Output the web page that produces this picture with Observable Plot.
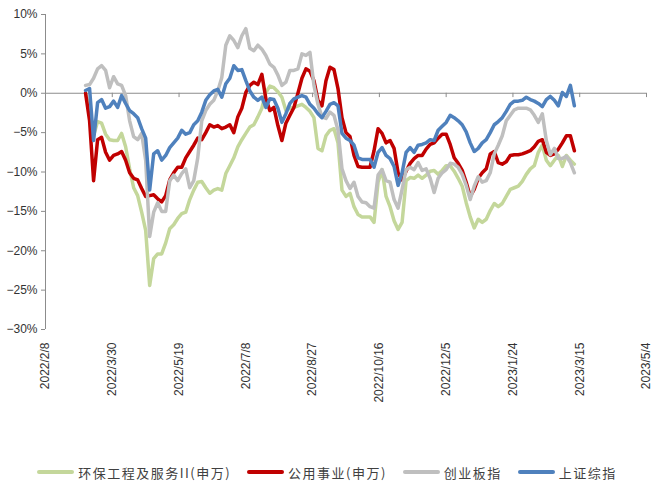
<!DOCTYPE html>
<html>
<head>
<meta charset="utf-8">
<script src="https://cdn.jsdelivr.net/npm/d3@7"></script>
<script src="https://cdn.jsdelivr.net/npm/@observablehq/plot@0.6"></script>
<style>
  html, body { margin: 0; padding: 0; background: #fff; }
  #chart { width: 654px; }
  .legend {
    display: flex; justify-content: center; align-items: center;
    height: 34px; font-family: "Noto Sans CJK SC", sans-serif;
    font-size: 13px; letter-spacing: 1.5px; color: #404040;
  }
  .legend .item { display: flex; align-items: center; margin: 0 8px; }
  .legend .swatch { width: 37px; height: 4px; border-radius: 2px; margin-right: 4px; }
</style>
</head>
<body>
<div id="chart"></div>
<script>
// Series names and colours (legend order = drawing order)
const seriesNames = ["环保工程及服务II(申万)", "公用事业(申万)", "创业板指", "上证综指"];
const seriesColors = ["#c4d79b", "#c00000", "#bfbfbf", "#4f81bd"];

// Observation dates (every three days)
const dates = [
  "2022-03-10","2022-03-13","2022-03-16","2022-03-19","2022-03-22","2022-03-25","2022-03-28","2022-03-31",
  "2022-04-03","2022-04-06","2022-04-09","2022-04-12","2022-04-15","2022-04-18","2022-04-21","2022-04-24","2022-04-27","2022-04-30",
  "2022-05-03","2022-05-06","2022-05-09","2022-05-12","2022-05-15","2022-05-18","2022-05-21","2022-05-24","2022-05-27","2022-05-30",
  "2022-06-02","2022-06-05","2022-06-08","2022-06-11","2022-06-14","2022-06-17","2022-06-20","2022-06-23","2022-06-26","2022-06-29",
  "2022-07-02","2022-07-05","2022-07-08","2022-07-11","2022-07-14","2022-07-17","2022-07-20","2022-07-23","2022-07-26","2022-07-29",
  "2022-08-01","2022-08-04","2022-08-07","2022-08-10","2022-08-13","2022-08-16","2022-08-19","2022-08-22","2022-08-25","2022-08-28","2022-08-31",
  "2022-09-03","2022-09-06","2022-09-09","2022-09-12","2022-09-15","2022-09-18","2022-09-21","2022-09-24","2022-09-27","2022-09-30",
  "2022-10-03","2022-10-06","2022-10-09","2022-10-12","2022-10-15","2022-10-18","2022-10-21","2022-10-24","2022-10-27","2022-10-30",
  "2022-11-02","2022-11-05","2022-11-08","2022-11-11","2022-11-14","2022-11-17","2022-11-20","2022-11-23","2022-11-26","2022-11-29",
  "2022-12-02","2022-12-05","2022-12-08","2022-12-11","2022-12-14","2022-12-17","2022-12-20","2022-12-23","2022-12-26","2022-12-29",
  "2023-01-01","2023-01-04","2023-01-07","2023-01-10","2023-01-13","2023-01-16","2023-01-19","2023-01-22","2023-01-25","2023-01-28","2023-01-31",
  "2023-02-03","2023-02-06","2023-02-09","2023-02-12","2023-02-15","2023-02-18","2023-02-21","2023-02-24","2023-02-27",
  "2023-03-02","2023-03-05","2023-03-08","2023-03-11"
];

// Cumulative change, %
const envProtection = [
  0.0,-1.9,-5.4,-3.6,-3.8,-5.2,-5.9,-6.0,-6.0,-5.1,-6.8,-9.6,-12.0,-13.0,-15.1,-17.4,-24.4,-21.0,-20.4,-20.4,
  -19.0,-17.2,-16.7,-15.9,-15.3,-15.1,-13.5,-12.3,-11.3,-11.2,-12.0,-12.7,-12.3,-12.1,-12.3,-10.2,-9.2,-8.2,-6.8,-5.9,
  -5.1,-4.3,-4.0,-3.0,-1.9,0.1,0.9,0.7,0.2,-0.5,-2.2,-1.9,-1.8,-1.6,-1.4,-1.8,-2.3,-3.1,-7.0,-7.3,
  -5.4,-4.7,-4.5,-6.3,-12.3,-13.1,-12.7,-14.4,-15.4,-15.7,-15.7,-15.7,-16.4,-11.3,-9.7,-13.1,-14.4,-16.2,-17.3,-16.4,
  -11.1,-10.7,-10.8,-10.4,-10.8,-10.4,-9.9,-9.8,-10.3,-9.8,-9.2,-9.2,-9.9,-10.8,-11.8,-13.9,-15.7,-17.1,-16.0,-16.4,
  -16.0,-14.9,-14.0,-14.4,-14.0,-13.1,-12.2,-12.0,-11.8,-11.2,-10.3,-9.6,-9.2,-7.5,-6.6,-8.5,-9.2,-8.5,-7.9,-9.3,
  -7.9,-8.5,-9.0
];
const utilities = [
  0.0,-3.5,-11.1,-5.9,-5.6,-7.5,-8.5,-7.9,-7.7,-7.4,-8.5,-10.1,-10.8,-11.0,-12.1,-13.1,-13.0,-12.9,-13.4,-13.8,
  -13.0,-11.0,-10.1,-9.4,-9.4,-8.2,-7.4,-6.6,-5.7,-5.9,-5.0,-4.0,-4.3,-4.1,-4.5,-4.3,-4.0,-5.0,-3.0,-1.9,
  0.1,1.0,1.4,1.1,2.4,-0.7,-2.2,-1.8,-4.1,-6.0,-3.8,-2.8,-1.8,0.0,1.9,3.1,2.8,1.6,-0.9,-1.6,
  1.6,3.3,3.0,0.6,-3.1,-5.0,-5.5,-7.9,-9.3,-9.4,-9.4,-9.4,-7.3,-4.5,-5.1,-6.3,-6.0,-7.0,-10.1,-11.0,
  -9.9,-8.9,-8.3,-7.9,-7.9,-7.1,-6.5,-6.3,-5.7,-5.2,-5.2,-6.5,-8.2,-8.9,-9.8,-11.3,-13.1,-12.2,-10.8,-10.1,
  -9.6,-7.7,-7.4,-8.8,-9.0,-8.7,-7.9,-7.8,-7.8,-7.7,-7.5,-7.3,-6.8,-6.1,-5.9,-7.5,-7.9,-7.7,-7.1,-6.3,
  -5.4,-5.4,-7.3
];
const chinext = [
  1.0,1.1,1.9,3.1,3.5,2.9,0.7,2.1,1.2,1.0,-0.3,-3.5,-5.5,-5.9,-5.1,-8.5,-18.2,-15.1,-13.9,-15.0,
  -15.0,-11.1,-10.4,-11.1,-10.2,-9.6,-12.0,-11.1,-8.2,-3.5,-2.2,-1.4,-0.9,0.3,2.0,6.1,7.3,6.7,5.8,7.3,
  8.2,5.7,5.4,6.1,5.6,4.8,3.7,3.3,2.3,1.0,1.4,2.9,2.9,3.1,5.0,4.8,5.2,1.0,-1.4,-3.0,
  -3.2,-2.4,-2.8,-4.7,-9.6,-11.1,-12.1,-11.3,-13.1,-13.8,-13.9,-14.4,-14.6,-10.4,-9.7,-11.1,-11.3,-13.5,-14.6,-12.2,
  -9.7,-9.4,-9.7,-8.8,-9.8,-9.6,-10.8,-12.6,-10.8,-10.1,-9.7,-8.9,-9.0,-9.4,-10.3,-11.7,-13.5,-11.8,-10.6,-11.3,
  -11.1,-10.1,-7.7,-6.6,-5.4,-3.5,-2.8,-2.1,-1.9,-1.9,-1.9,-2.1,-2.8,-3.7,-2.6,-6.0,-7.8,-7.0,-8.3,-8.3,
  -8.0,-8.8,-10.1
];
const shanghaiComposite = [
  0.35,0.6,-6.0,-1.2,-0.8,-1.9,-1.7,-1.0,-1.8,-0.3,-1.3,-2.2,-2.6,-3.1,-4.5,-5.7,-12.3,-7.7,-7.3,-8.5,
  -7.9,-6.9,-6.3,-5.7,-4.7,-5.2,-5.0,-4.0,-3.5,-2.4,-0.9,-0.2,0.3,0.5,-0.5,1.2,1.9,3.5,2.9,3.0,
  1.6,0.3,-0.5,-0.9,-0.5,-1.8,-0.7,-0.8,-1.9,-3.7,-2.6,-1.3,-0.7,-0.5,-0.3,-0.5,-1.4,-1.9,-2.6,-3.1,
  -2.3,-1.4,-1.2,-1.6,-5.1,-5.7,-6.0,-6.6,-8.2,-8.4,-8.4,-8.4,-9.4,-7.5,-6.9,-7.9,-8.3,-9.3,-11.7,-10.1,
  -7.5,-6.9,-7.5,-6.6,-6.5,-6.3,-5.9,-6.0,-4.7,-4.2,-3.7,-2.8,-3.1,-3.5,-4.0,-4.9,-6.3,-7.4,-7.0,-6.3,
  -5.9,-5.0,-4.0,-3.6,-3.1,-2.3,-1.4,-1.0,-1.0,-0.9,-0.5,-0.8,-1.0,-1.3,-1.7,-0.8,-0.4,-0.9,-1.6,0.1,
  -0.4,1.0,-1.6
];

// Axis ticks
const xTickLabels = ["2022/2/8","2022/3/30","2022/5/19","2022/7/8","2022/8/27","2022/10/16","2022/12/5","2023/1/24","2023/3/15","2023/5/4"];
const yTicks = [-30, -25, -20, -15, -10, -5, 0, 5, 10];

const parseSlash = s => { const [y, m, d] = s.split("/").map(Number); return new Date(Date.UTC(y, m - 1, d)); };
const parseDash = s => { const [y, m, d] = s.split("-").map(Number); return new Date(Date.UTC(y, m - 1, d)); };
const fmtDate = d => `${d.getUTCFullYear()}/${d.getUTCMonth() + 1}/${d.getUTCDate()}`;
const fmtPct = v => (v < 0 ? "\u2212" : "") + Math.abs(v) + "%";

const xTicks = xTickLabels.map(parseSlash);
const xDomain = [xTicks[0], xTicks[xTicks.length - 1]];
const seriesValues = [envProtection, utilities, chinext, shanghaiComposite];
const rows = seriesValues.map(vals => dates.map((s, i) => ({date: parseDash(s), value: vals[i]})));

const axisColor = "#8c8c8c";

const chart = Plot.plot({
  width: 654,
  height: 455,
  marginLeft: 45,
  marginRight: 8,
  marginTop: 14,
  marginBottom: 126,
  style: {fontFamily: "'Liberation Sans', Arial, sans-serif", fontSize: "12px", color: "#333", background: "#fff"},
  x: {type: "utc", domain: xDomain},
  y: {domain: [-30, 10]},
  marks: [
    Plot.ruleX([xDomain[0]], {y1: -30, y2: 10, stroke: axisColor, strokeWidth: 1}),
    Plot.ruleY([0], {stroke: axisColor, strokeWidth: 1.2}),
    Plot.ruleX(xTicks, {x: d => d, y1: 0, y2: -0.55, stroke: axisColor}),
    Plot.axisY({ticks: yTicks, tickFormat: fmtPct, tickSize: 4, tickPadding: 4, stroke: axisColor, label: null}),
    Plot.axisX({anchor: "bottom", ticks: xTicks, tickFormat: fmtDate, tickRotate: -90, tickSize: 0, tickPadding: 13, label: null}),
    ...rows.map((r, k) => Plot.line(r, {
      x: "date", y: "value", stroke: seriesColors[k], strokeWidth: 3.5,
      strokeLinejoin: "round", strokeLinecap: "round"
    }))
  ]
});
document.getElementById("chart").appendChild(chart);

// Legend below the plot
const legend = document.createElement("div");
legend.className = "legend";
seriesNames.forEach((name, k) => {
  const item = document.createElement("div");
  item.className = "item";
  const sw = document.createElement("span");
  sw.className = "swatch";
  sw.style.background = seriesColors[k];
  const label = document.createElement("span");
  label.textContent = name;
  item.appendChild(sw);
  item.appendChild(label);
  legend.appendChild(item);
});
document.getElementById("chart").appendChild(legend);
</script>
</body>
</html>
